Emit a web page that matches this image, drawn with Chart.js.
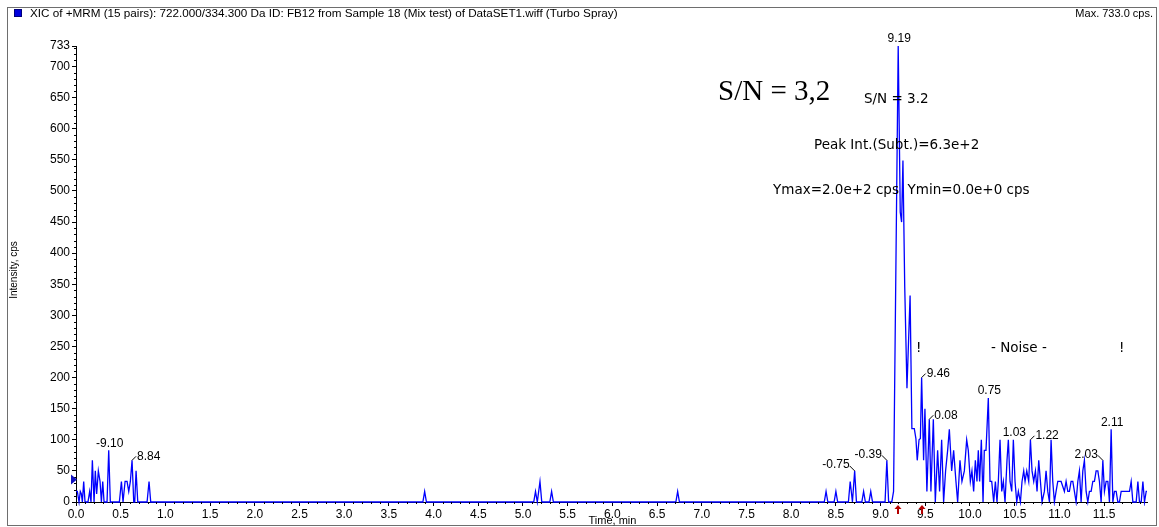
<!DOCTYPE html>
<html><head><meta charset="utf-8">
<script src="https://cdn.jsdelivr.net/npm/chart.js@4.4.1/dist/chart.umd.min.js"></script>
<style>html,body{margin:0;padding:0;background:#fff;overflow:hidden}canvas{display:block}</style>
</head><body>
<canvas id="c" width="1159" height="527"></canvas>
<script>
// ---- data ----
const times = [
  0.000, 0.015, 0.034, 0.048, 0.060, 0.071, 0.086, 0.101, 0.134, 0.153,
  0.168, 0.183, 0.202, 0.216, 0.231, 0.250, 0.269, 0.284, 0.299, 0.314,
  0.347, 0.366, 0.384, 0.485, 0.508, 0.526, 0.549, 0.571, 0.590, 0.608,
  0.627, 0.646, 0.657, 0.672, 0.691, 0.795, 0.817, 0.836, 3.880, 3.900,
  3.920, 5.120, 5.140, 5.160, 5.190, 5.210, 5.300, 5.320, 5.340, 6.710,
  6.730, 6.750, 8.370, 8.390, 8.410, 8.480, 8.500, 8.520, 8.640, 8.660,
  8.685, 8.710, 8.730, 8.790, 8.810, 8.830, 8.870, 8.890, 8.910, 9.050,
  9.070, 9.090, 9.125, 9.145, 9.197, 9.220, 9.235, 9.250, 9.270, 9.295,
  9.330, 9.350, 9.377, 9.395, 9.410, 9.430, 9.445, 9.459, 9.481, 9.496,
  9.518, 9.545, 9.563, 9.590, 9.612, 9.638, 9.660, 9.683, 9.705, 9.727,
  9.750, 9.769, 9.795, 9.817, 9.843, 9.862, 9.888, 9.910, 9.937, 9.963,
  9.981, 10.004, 10.022, 10.041, 10.060, 10.078, 10.093, 10.108, 10.127, 10.146,
  10.160, 10.179, 10.205, 10.224, 10.243, 10.265, 10.284, 10.302, 10.317, 10.336,
  10.355, 10.373, 10.392, 10.414, 10.429, 10.448, 10.467, 10.485, 10.504, 10.523,
  10.541, 10.564, 10.582, 10.601, 10.616, 10.635, 10.657, 10.676, 10.694, 10.713,
  10.732, 10.750, 10.769, 10.788, 10.806, 10.832, 10.851, 10.870, 10.889, 10.907,
  10.926, 10.944, 10.963, 10.982, 11.000, 11.019, 11.038, 11.056, 11.075, 11.094,
  11.112, 11.131, 11.150, 11.168, 11.187, 11.206, 11.224, 11.243, 11.262, 11.280,
  11.299, 11.318, 11.336, 11.355, 11.374, 11.392, 11.411, 11.430, 11.448, 11.467,
  11.486, 11.504, 11.523, 11.542, 11.560, 11.579, 11.598, 11.616, 11.635, 11.654,
  11.672, 11.691, 11.710, 11.728, 11.747, 11.766, 11.784, 11.803, 11.822, 11.840,
  11.859, 11.878, 11.896, 11.915, 11.934, 11.952, 11.971, 11.980
];
const intensities = [
  17, 17, 0, 17, 13, 0, 33, 0, 0, 17,
  0, 67, 0, 50, 13, 50, 33, 0, 33, 0,
  0, 83, 0, 0, 33, 0, 33, 33, 17, 33,
  67, 0, 0, 50, 0, 0, 33, 0, 0, 17,
  0, 0, 17, 0, 33, 0, 0, 17, 0, 0,
  17, 0, 0, 17, 0, 0, 17, 0, 0, 33,
  0, 50, 0, 0, 17, 0, 0, 17, 0, 0,
  67, 0, 0, 17, 733, 466, 450, 549, 346, 183,
  332, 118, 118, 102, 67, 100, 102, 200, 67, 150,
  17, 133, 17, 133, 0, 83, 17, 100, 0, 50,
  83, 117, 50, 83, 33, 0, 67, 33, 50, 100,
  83, 33, 50, 17, 67, 33, 83, 33, 100, 0,
  83, 83, 167, 33, 33, 0, 33, 0, 33, 100,
  17, 33, 0, 67, 100, 33, 17, 100, 33, 0,
  17, 0, 33, 50, 33, 50, 33, 100, 50, 33,
  50, 17, 67, 33, 0, 17, 50, 17, 0, 100,
  33, 0, 17, 33, 33, 33, 25, 17, 33, 17,
  17, 33, 33, 17, 0, 33, 50, 0, 50, 67,
  17, 0, 17, 17, 33, 33, 50, 50, 33, 0,
  67, 17, 33, 33, 0, 117, 0, 17, 17, 0,
  0, 17, 17, 17, 17, 17, 17, 33, 0, 0,
  0, 33, 0, 0, 33, 0, 17, 17
];
const xTickValues = [0, 0.5, 1, 1.5, 2, 2.5, 3, 3.5, 4, 4.5, 5, 5.5, 6, 6.5, 7, 7.5, 8, 8.5, 9, 9.5, 10, 10.5, 11, 11.5];
const yTickValues = [0, 50, 100, 150, 200, 250, 300, 350, 400, 450, 500, 550, 600, 650, 700, 733];
const peakLabelTimes = [0.366, 0.627, 8.710, 9.070, 9.197, 9.459, 9.545, 10.205, 10.485, 10.676, 11.486, 11.579];
const peakLabelTexts = ['-9.10', '8.84', '-0.75', '-0.39', '9.19', '9.46', '0.08', '0.75', '1.03', '1.22', '2.03', '2.11'];
const peakLabelKinds = ['above', 'right', 'left', 'left', 'above', 'right', 'right', 'above', 'above', 'right', 'left', 'above'];
const markerTimes = [9.19, 9.46];
const startMarkerValue = 36;

const points = times.map((t, i) => ({x: t, y: intensities[i]}));

const NUM_FONT = '12px "Liberation Sans", Arial, sans-serif';
const ANN_FONT = '13.5px "DejaVu Sans", Verdana, sans-serif';

const decor = {
  id: 'decor',
  beforeDraw(chart) {
    const c = chart.ctx;
    c.save(); c.fillStyle = '#fff'; c.fillRect(0, 0, chart.width, chart.height); c.restore();
  },
  afterDraw(chart) {
    const c = chart.ctx;
    const xs = chart.scales.x, ys = chart.scales.y;
    const a = chart.chartArea;
    c.save();
    // frame
    c.strokeStyle = '#6e6e6e'; c.lineWidth = 1;
    c.strokeRect(7.5, 7.5, 1149, 518);
    // header
    c.fillStyle = '#0000dd'; c.fillRect(14, 9, 8, 8);
    c.strokeStyle = '#00007a'; c.strokeRect(14.5, 9.5, 7, 7);
    c.fillStyle = '#000'; c.font = '11.7px "Liberation Sans", Arial, sans-serif';
    c.textBaseline = 'middle'; c.textAlign = 'left';
    c.fillText('XIC of +MRM (15 pairs): 722.000/334.300 Da ID: FB12 from Sample 18 (Mix test) of DataSET1.wiff (Turbo Spray)', 30, 14);
    c.font = '11px "Liberation Sans", Arial, sans-serif';
    c.textAlign = 'right';
    c.fillText('Max. 733.0 cps.', 1153, 14);
    // axis titles
    c.textAlign = 'center';
    c.fillText('Time, min', (a.left + a.right) / 2 + 1, 521);
    c.save(); c.translate(14, 270); c.rotate(-Math.PI / 2);
    c.font = '10px "Liberation Sans", Arial, sans-serif';
    c.fillText('Intensity, cps', 0, 0); c.restore();
    // minor ticks
    c.strokeStyle = '#000'; c.lineWidth = 1;
    c.beginPath();
    for (let k = 1; k < 74; k++) {
      if (k % 5 === 0) continue;
      const y = Math.round(ys.getPixelForValue(k * 10)) + 0.5;
      c.moveTo(a.left - 2, y); c.lineTo(a.left, y);
    }
    for (let k = 1; k < 120; k++) {
      if (k % 5 === 0) continue;
      const x = Math.round(xs.getPixelForValue(k / 10)) + 0.5;
      c.moveTo(x, a.bottom); c.lineTo(x, a.bottom + 2);
    }
    c.stroke();
    // peak labels
    c.font = NUM_FONT; c.fillStyle = '#000'; c.lineWidth = 1;
    peakLabelTimes.forEach((t, i) => {
      let idx = 0, best = 1e9;
      times.forEach((tt, j) => { const d = Math.abs(tt - t); if (d < best) { best = d; idx = j; } });
      const px = xs.getPixelForValue(times[idx]);
      const py = ys.getPixelForValue(intensities[idx]);
      const kind = peakLabelKinds[i];
      if (kind === 'above') {
        c.textAlign = 'center'; c.textBaseline = 'bottom';
        c.fillText(peakLabelTexts[i], px + 1, py - 1);
      } else if (kind === 'right') {
        c.beginPath(); c.moveTo(px, py); c.lineTo(px + 4, py - 4); c.stroke();
        c.textAlign = 'left'; c.textBaseline = 'middle';
        c.fillText(peakLabelTexts[i], px + 5, py - 4);
      } else {
        c.beginPath(); c.moveTo(px, py); c.lineTo(px - 5, py - 5); c.stroke();
        c.textAlign = 'right'; c.textBaseline = 'middle';
        c.fillText(peakLabelTexts[i], px - 5, py - 6);
      }
    });
    // annotations
    c.fillStyle = '#000'; c.textAlign = 'left'; c.textBaseline = 'middle';
    c.font = '29px "Liberation Serif", "Times New Roman", serif';
    c.fillText('S/N = 3,2', 718, 92);
    c.font = ANN_FONT;
    c.fillText('S/N = 3.2', 864, 99);
    c.fillText('Peak Int.(Subt.)=6.3e+2', 814, 145);
    c.fillText('Ymax=2.0e+2 cps  Ymin=0.0e+0 cps', 773, 190);
    c.fillText('!', 916, 348);
    c.fillText('- Noise -', 991, 348);
    c.fillText('!', 1119, 348);
    // red peak markers
    c.fillStyle = '#b40000';
    markerTimes.forEach(t => {
      const x = Math.round(xs.getPixelForValue(t));
      c.beginPath();
      c.moveTo(x, a.bottom + 3); c.lineTo(x + 3.5, a.bottom + 7); c.lineTo(x - 3.5, a.bottom + 7); c.closePath(); c.fill();
      c.fillRect(x - 1, a.bottom + 7, 2, 5);
    });
    // start marker
    const my = ys.getPixelForValue(startMarkerValue);
    c.fillStyle = '#1010c0';
    c.beginPath(); c.moveTo(a.left - 5, my - 5); c.lineTo(a.left + 1, my); c.lineTo(a.left - 5, my + 5); c.closePath(); c.fill();
    c.restore();
  }
};

new Chart(document.getElementById('c'), {
  type: 'line',
  data: { datasets: [{
    data: points, borderColor: '#0000ff', borderWidth: 1.3, pointRadius: 0,
    tension: 0, fill: false, clip: 4
  }]},
  options: {
    responsive: false, animation: false, devicePixelRatio: 1,
    layout: { padding: { left: 8, right: 12, top: 46, bottom: 0 } },
    plugins: { legend: { display: false }, tooltip: { enabled: false }, title: { display: false } },
    scales: {
      x: {
        type: 'linear', min: 0, max: 11.98,
        afterBuildTicks: s => { s.ticks = xTickValues.map(v => ({ value: v })); },
        afterFit: s => { s.height = 25; },
        ticks: { autoSkip: false, maxRotation: 0, minRotation: 0, padding: 1, color: '#000',
          font: { family: '"Liberation Sans", Arial, sans-serif', size: 12 },
          callback: v => Number(v).toFixed(1) },
        grid: { drawOnChartArea: false, drawTicks: true, tickLength: 4, color: '#000', lineWidth: 1 },
        border: { display: true, color: '#000', width: 1 }
      },
      y: {
        type: 'linear', min: 0, max: 733,
        afterBuildTicks: s => { s.ticks = yTickValues.map(v => ({ value: v })); },
        afterFit: s => { s.width = 68; },
        ticks: { autoSkip: false, padding: 2, color: '#000',
          font: { family: '"Liberation Sans", Arial, sans-serif', size: 12 },
          callback: v => String(v) },
        grid: { drawOnChartArea: false, drawTicks: true, tickLength: 4, color: '#000', lineWidth: 1 },
        border: { display: true, color: '#000', width: 1 }
      }
    }
  },
  plugins: [decor]
});
</script>
</body></html>
